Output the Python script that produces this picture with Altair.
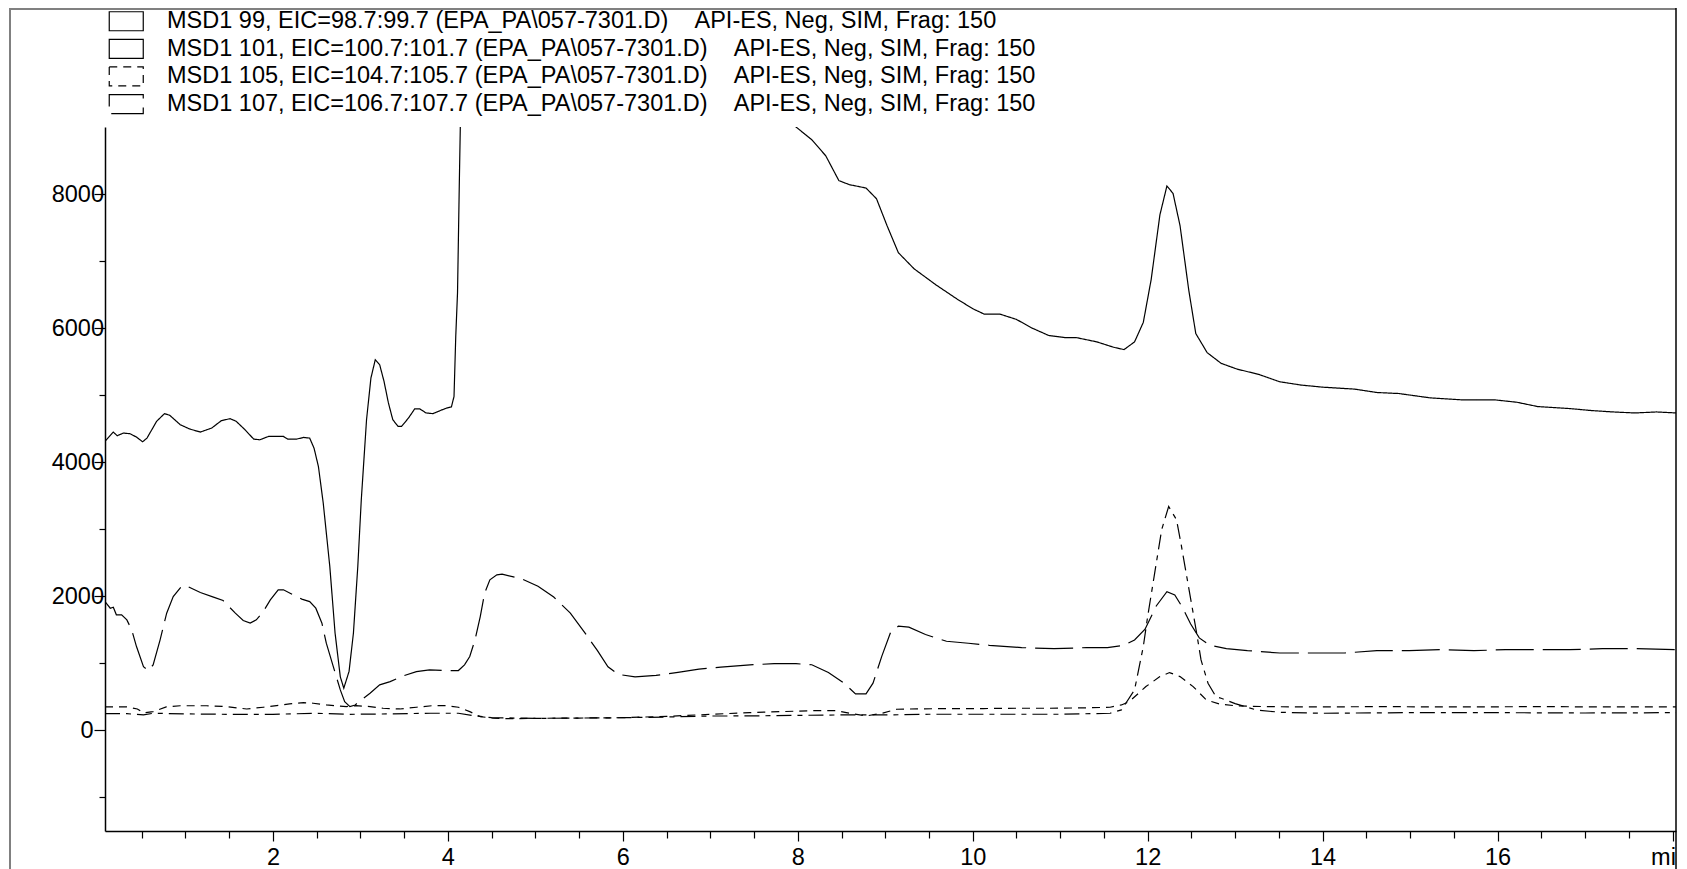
import altair as alt
import pandas as pd

NB = "\u00a0"
GAP = NB * 4
SUFFIX = "API-ES, Neg, SIM, Frag: 150"
names = [
    "MSD1 99, EIC=98.7:99.7 (EPA_PA\\057-7301.D)" + GAP + SUFFIX,
    "MSD1 101, EIC=100.7:101.7 (EPA_PA\\057-7301.D)" + GAP + SUFFIX,
    "MSD1 105, EIC=104.7:105.7 (EPA_PA\\057-7301.D)" + GAP + SUFFIX,
    "MSD1 107, EIC=106.7:107.7 (EPA_PA\\057-7301.D)" + GAP + SUFFIX,
]

# MSD1 99 (solid, large trace; leaves the top of the frame between ~4.1 and ~8 min)
a_t = [0.08, 0.175, 0.22, 0.29, 0.366, 0.44, 0.51, 0.56, 0.67, 0.76, 0.82, 0.94, 1.05, 1.17, 1.30,
       1.41, 1.51, 1.58, 1.68, 1.78, 1.85, 1.95, 2.12, 2.17, 2.27, 2.35, 2.42, 2.47, 2.52, 2.575,
       2.65, 2.71, 2.77, 2.81, 2.87, 2.92, 2.97, 3.01, 3.07, 3.12, 3.17, 3.22, 3.27, 3.32, 3.37,
       3.43, 3.47, 3.55, 3.62, 3.68, 3.75, 3.83, 3.92, 3.98, 4.04, 4.07, 4.09, 4.11, 4.13, 4.15,
       4.25, 6.0, 7.7, 7.98, 8.16, 8.32, 8.47, 8.59, 8.78, 8.90, 9.02, 9.15, 9.33, 9.58, 9.82,
       10.0, 10.13, 10.31, 10.5, 10.68, 10.87, 11.05, 11.18, 11.42, 11.61, 11.73, 11.85, 11.95,
       12.04, 12.14, 12.22, 12.29, 12.37, 12.47, 12.55, 12.68, 12.84, 13.02, 13.27, 13.51, 13.76,
       14.0, 14.37, 14.62, 14.87, 15.23, 15.60, 15.97, 16.22, 16.46, 16.83, 17.08, 17.32, 17.57,
       17.82, 18.04]
a_v = [4310, 4450, 4395, 4435, 4425, 4375, 4305, 4360, 4610, 4725, 4700, 4560, 4495, 4450, 4510,
       4620, 4650, 4610, 4485, 4345, 4335, 4385, 4385, 4345, 4345, 4370, 4360, 4210, 3935, 3390,
       2445, 1455, 800, 630, 880, 1450, 2445, 3440, 4635, 5255, 5530, 5455, 5205, 4885, 4635,
       4535, 4535, 4660, 4795, 4795, 4735, 4725, 4775, 4805, 4825, 4980, 5880, 6525, 8115, 9600,
       12000, 14000, 9500, 9000, 8810, 8570, 8200, 8140, 8090, 7930, 7530, 7125, 6885, 6645, 6435,
       6290, 6210, 6210, 6130, 6000, 5890, 5860, 5860, 5795, 5715, 5680, 5795, 6085,
       6725, 7690, 8120, 8010, 7530, 6565, 5920, 5635, 5475, 5390, 5310, 5200, 5150,
       5120, 5090, 5040, 5025, 4960, 4930, 4930, 4895, 4830, 4800, 4770, 4750, 4735,
       4750, 4735]

# MSD1 101 (dashed trace with the tall peak at 12.2 min)
d_t = [0.08, 0.33, 0.52, 0.63, 1.0, 1.5, 2.0, 2.5, 2.85, 3.3, 3.8, 4.12, 4.3, 4.5, 5.0, 6.0, 6.5,
       7.0, 7.45, 8.0, 8.5, 9.0, 9.5, 10.0, 11.0, 11.57, 11.70, 11.85, 11.95, 12.0, 12.08, 12.16,
       12.24, 12.33, 12.38, 12.44, 12.50, 12.56, 12.61, 12.69, 12.78, 12.84, 13.0, 13.24, 13.51,
       13.97, 15.0, 16.0, 17.0, 18.04]
d_v = [250, 250, 231, 256, 246, 240, 240, 256, 240, 246, 256, 256, 220, 190, 180, 190, 200,
       215, 216, 225, 231, 231, 241, 241, 241, 256, 306, 604, 1251, 1699, 2346, 2993,
       3340, 3142, 2794, 2346, 1899, 1451, 1052, 704, 505, 480, 400, 306, 271,
       256, 265, 265, 260, 265]

# MSD1 105 (short dashes)
c_t = [0.08, 0.33, 0.45, 0.52, 0.63, 0.78, 0.94, 1.24, 1.47, 1.70, 1.89, 2.04, 2.19, 2.35, 2.46,
       2.61, 2.84, 2.95, 3.11, 3.26, 3.45, 3.64, 3.83, 3.98, 4.12, 4.25, 4.37, 4.52, 4.7, 5.0, 5.5,
       6.0, 6.5, 7.0, 7.45, 7.83, 8.21, 8.44, 8.59, 8.78, 8.97, 9.13, 9.36, 9.74, 10.12, 10.5,
       10.88, 11.26, 11.57, 11.70, 11.79, 11.98, 12.14, 12.25, 12.37, 12.52, 12.67, 12.82, 13.01,
       13.36, 13.89, 14.65, 15.5, 16.5, 17.3, 18.04]
c_v = [350, 350, 320, 260, 280, 350, 368, 368, 355, 320, 346, 370, 395, 415, 405,
       380, 355, 370, 355, 331, 320, 346, 370, 370, 346, 280, 206, 182, 175, 180, 185,
       190, 210, 240, 266, 281, 296, 296, 257, 216, 257, 316, 321, 326, 326, 331,
       331, 336, 346, 380, 430, 654, 803, 863, 803, 654, 455, 395, 366,
       355, 350, 355, 350, 355, 350, 350]

# MSD1 107 (long dashes)
b_t = [0.08, 0.14, 0.175, 0.21, 0.27, 0.33, 0.385, 0.44, 0.52, 0.575, 0.63, 0.71, 0.785, 0.86,
       0.96, 1.01, 1.17, 1.32, 1.43, 1.57, 1.66, 1.74, 1.81, 1.89, 1.97, 2.06, 2.12, 2.23, 2.33,
       2.42, 2.49, 2.56, 2.61, 2.69, 2.77, 2.82, 2.88, 2.94, 3.01, 3.11, 3.22, 3.34, 3.49, 3.64,
       3.79, 3.99, 4.12, 4.19, 4.25, 4.31, 4.37, 4.42, 4.48, 4.56, 4.62, 4.84, 5.03, 5.21, 5.40,
       5.58, 5.71, 5.83, 5.95, 6.14, 6.38, 6.63, 6.87, 7.12, 7.49, 7.73, 7.98, 8.16, 8.35, 8.53,
       8.66, 8.78, 8.86, 8.96, 9.06, 9.15, 9.27, 9.46, 9.70, 9.95, 10.19, 10.56, 10.93, 11.30,
       11.54, 11.73, 11.85, 11.97, 12.10, 12.22, 12.31, 12.40, 12.49, 12.59, 12.71, 12.90, 13.14,
       13.51, 13.88, 14.25, 14.62, 14.99, 15.36, 15.73, 16.09, 16.46, 16.83, 17.20, 17.57, 18.04]
b_v = [1922, 1823, 1838, 1724, 1724, 1649, 1500, 1251, 952, 893, 978, 1351, 1749, 1997,
       2157, 2157, 2057, 1988, 1937, 1749, 1639, 1600, 1649, 1773, 1948, 2097, 2097, 2022, 1958,
       1922, 1823, 1600, 1301, 952, 604, 430, 355, 380, 455, 555, 679, 728, 813, 878,
       903, 893, 893, 978, 1102, 1351, 1699, 2048, 2246, 2320, 2330, 2263, 2150, 1990, 1750,
       1430, 1190, 950, 835, 800, 820, 865, 915, 945, 980, 995, 995, 980, 865, 705,
       545, 545, 705, 1105, 1460, 1555, 1540, 1430, 1330, 1300, 1270, 1235, 1220, 1235,
       1235, 1270, 1350, 1510, 1860, 2070, 2020, 1830, 1590, 1380, 1270, 1220, 1190,
       1155, 1155, 1155, 1190, 1190, 1205, 1190, 1205, 1205, 1205, 1220, 1220, 1205]

x_ticks = [0.5 * k for k in range(1, 37)]
y_ticks = [-1000 + 500 * k for k in range(0, 20)]

W, H = 1571, 704
FONT = "Liberation Sans"

main = pd.concat([
    pd.DataFrame({"t": a_t, "v": a_v, "s": names[0]}),
    pd.DataFrame({"t": c_t, "v": c_v, "s": names[2]}),
    pd.DataFrame({"t": b_t, "v": b_v, "s": names[3]}),
])
dfd = pd.DataFrame({"t": d_t, "v": d_v})

xs = alt.Scale(domain=[0.08, 18.04], nice=False, zero=False)
ys = alt.Scale(domain=[-1500, 9000], nice=False, zero=False)

x_axis = alt.Axis(
    values=x_ticks, title=None, grid=False,
    labelExpr="datum.value == 18 ? 'min' : (datum.value % 2 == 0 ? format(datum.value, 'd') : '')",
    tickSize={"condition": {"test": "datum.value % 2 === 0", "value": 10}, "value": 7},
    labelOffset={"condition": {"test": "datum.value === 18", "value": -3}, "value": 0},
    labelPadding=4, labelFlush=False, labelOverlap=False,
    labelFont=FONT, labelFontSize=23.5, labelColor="black",
    domainColor="black", tickColor="black", domainWidth=1.5, tickWidth=1.2,
)
y_axis = alt.Axis(
    values=y_ticks, title=None, grid=False,
    labelExpr="datum.value % 2000 === 0 ? format(datum.value, 'd') : ''",
    tickSize={"condition": {"test": "datum.value % 2000 === 0", "value": 11}, "value": 6},
    labelPadding={"condition": {"test": "datum.value === 0", "value": 1}, "value": -9.5},
    labelOverlap=False, labelFlush=False,
    labelFont=FONT, labelFontSize=23.5, labelColor="black",
    domainColor="black", tickColor="black", domainWidth=1.5, tickWidth=1.2,
)

lines = alt.Chart(main).mark_line(color="black", strokeWidth=1.2, clip=True).encode(
    x=alt.X("t:Q", scale=xs, axis=x_axis),
    y=alt.Y("v:Q", scale=ys, axis=y_axis),
    strokeDash=alt.StrokeDash(
        "s:N",
        scale=alt.Scale(domain=names, range=[[1, 0], [1, 0], [8, 6], [38, 9]]),
        legend=alt.Legend(
            orient="none", legendX=9.5, legendY=-117.5, title=None, padding=0,
            symbolType="M-1.79,-1H1.79V1H-1.79Z", symbolSize=361,
            symbolStrokeColor="black", symbolFillColor="white", symbolStrokeWidth=1.2,
            labelFont=FONT, labelFontSize=23.5, labelColor="black", labelLimit=2000,
            labelOffset=29, rowPadding=2.6, symbolOffset=0,
        ),
    ),
)

d_line = alt.Chart(dfd).mark_line(color="black", strokeWidth=1.2, strokeDash=[15, 6, 5, 6], clip=True).encode(
    x=alt.X("t:Q", scale=xs),
    y=alt.Y("v:Q", scale=ys),
)

one = pd.DataFrame({"k": [0]})
frame_left = alt.Chart(one).mark_rule(color="#808080", strokeWidth=2).encode(
    x=alt.value(-95), y=alt.value(-118), y2=alt.value(H + 60))
frame_top = alt.Chart(one).mark_rule(color="#808080", strokeWidth=2).encode(
    x=alt.value(-96), x2=alt.value(W), y=alt.value(-118))
right_edge = alt.Chart(one).mark_rule(color="black", strokeWidth=1.5).encode(
    x=alt.value(W), y=alt.value(-119), y2=alt.value(H + 60))

chart = alt.layer(lines, d_line, frame_left, frame_top, right_edge).properties(
    width=W, height=H,
    autosize=alt.AutoSizeParams(type="none"),
    padding={"left": 97, "top": 119, "right": 1, "bottom": 38},
    background="white",
).configure_view(stroke="transparent")

chart.save("out.html", embed_options={"renderer": "svg", "actions": False})
